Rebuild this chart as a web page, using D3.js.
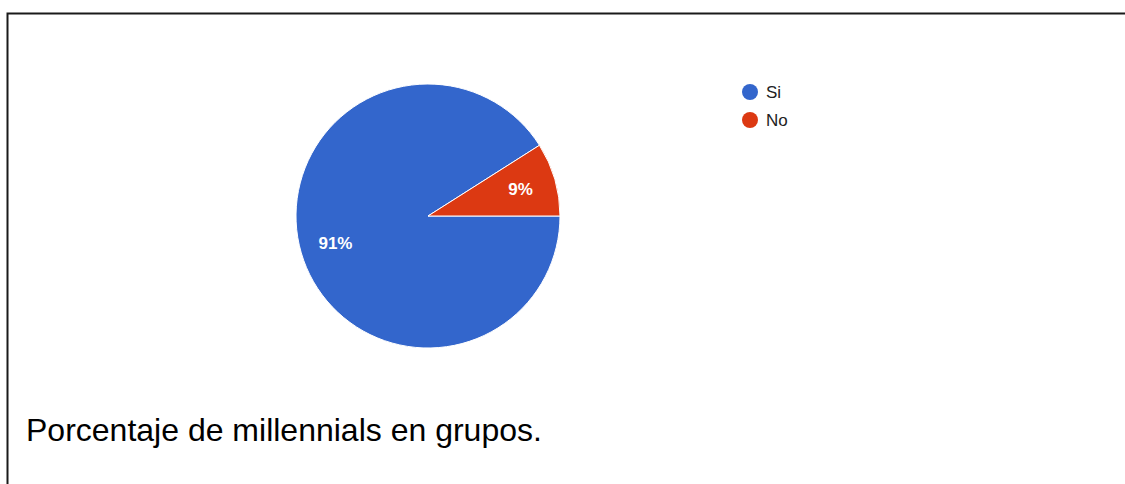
<!DOCTYPE html>
<html>
<head>
<meta charset="utf-8">
<script src="https://cdn.jsdelivr.net/npm/d3@7"></script>
<style>
  html, body { margin: 0; padding: 0; background: #fff; }
  svg { display: block; }
</style>
</head>
<body>
<svg id="chart" width="1125" height="484"></svg>
<script>
// Survey answers and their shares (percent)
const categories = ["Si", "No"];
const values = [91, 9];
const colors = ["#3366cc", "#dc3912"];
const caption = "Porcentaje de millennials en grupos.";

const svg = d3.select("#chart");

// Frame around the figure
svg.append("rect")
  .attr("x", 7.5).attr("y", 13.5)
  .attr("width", 1130).attr("height", 480)
  .attr("fill", "none")
  .attr("stroke", "#1a1a1a")
  .attr("stroke-width", 2);

const cx = 428, cy = 216, radius = 132;

const pie = d3.pie()
  .sort(null)
  .value(d => d.value)
  .startAngle(Math.PI / 2)
  .endAngle(Math.PI / 2 + 2 * Math.PI);

const data = categories.map((c, i) => ({ name: c, value: values[i], color: colors[i] }));
const arcs = pie(data);

const arc = d3.arc().innerRadius(0).outerRadius(radius);
const labelArc = d3.arc().innerRadius(radius * 0.73).outerRadius(radius * 0.73);

const g = svg.append("g").attr("transform", `translate(${cx},${cy})`);

g.selectAll("path.slice")
  .data(arcs)
  .join("path")
  .attr("class", "slice")
  .attr("d", arc)
  .attr("fill", d => d.data.color)
  .attr("stroke", "#ffffff")
  .attr("stroke-width", 1);

g.selectAll("text.pct")
  .data(arcs)
  .join("text")
  .attr("class", "pct")
  .attr("transform", d => `translate(${labelArc.centroid(d)})`)
  .attr("text-anchor", "middle")
  .attr("dy", "0.36em")
  .attr("fill", "#ffffff")
  .attr("font-family", "Arial, 'Liberation Sans', sans-serif")
  .attr("font-weight", "bold")
  .attr("font-size", 17)
  .text(d => d.data.value + "%");

// Legend
const legend = svg.append("g").attr("transform", "translate(750,92)");
const item = legend.selectAll("g.item")
  .data(data)
  .join("g")
  .attr("class", "item")
  .attr("transform", (d, i) => `translate(0,${i * 28})`);

item.append("circle")
  .attr("r", 8)
  .attr("fill", d => d.color);

item.append("text")
  .attr("x", 16)
  .attr("dy", "0.36em")
  .attr("font-family", "Arial, 'Liberation Sans', sans-serif")
  .attr("font-size", 17)
  .attr("fill", "#222222")
  .text(d => d.name);

// Caption below the chart
svg.append("text")
  .attr("x", 26)
  .attr("y", 441)
  .attr("font-family", "Arial, 'Liberation Sans', sans-serif")
  .attr("font-size", 32)
  .attr("fill", "#000000")
  .text(caption);
</script>
</body>
</html>
